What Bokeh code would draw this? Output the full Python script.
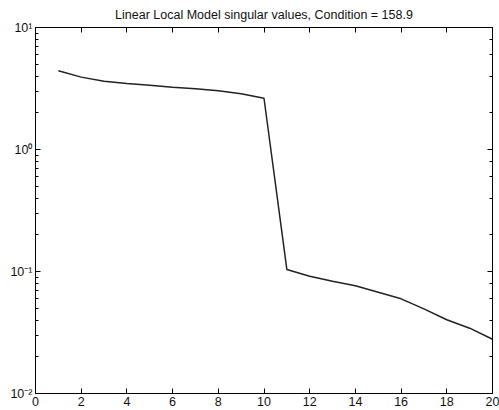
from bokeh.plotting import figure
from bokeh.models import (LinearAxis, LogAxis, FixedTicker, Range1d,
                          CustomJSTickFormatter, CustomLabelingPolicy)
from bokeh.embed import file_html
from bokeh.resources import INLINE

# Singular values of the linear local model, in descending order
index = list(range(1, 21))
singular_values = [4.42, 3.92, 3.63, 3.48, 3.37, 3.24, 3.15, 3.03, 2.86, 2.63,
                   0.104, 0.0915, 0.0831, 0.0763, 0.0676, 0.0597, 0.0494, 0.0402, 0.0343, 0.02782]

x_ticks = [0, 2, 4, 6, 8, 10, 12, 14, 16, 18, 20]

condition = singular_values[0] / singular_values[-1]
title_text = f"Linear Local Model singular values, Condition = {condition:.1f}"

FONT = "Liberation Sans"

p = figure(width=499, height=410, y_axis_type="log",
           x_range=Range1d(0, 20), y_range=Range1d(0.01, 10),
           output_backend="svg", toolbar_location=None,
           min_border_left=35, min_border_right=7,
           min_border_top=27, min_border_bottom=17,
           title=title_text)

p.title.align = "center"
p.title.text_font = FONT
p.title.text_font_size = "12.5px"
p.title.text_font_style = "normal"
p.title.text_color = "#111111"
p.title.standoff = 4

p.xgrid.visible = False
p.ygrid.visible = False
p.outline_line_color = "black"
p.outline_line_width = 1
p.background_fill_color = "white"
p.border_fill_color = "white"

pow_fmt = CustomJSTickFormatter(code="""
    const sup = {"-": "\u207b", "0": "\u2070", "1": "\u00b9", "2": "\u00b2", "3": "\u00b3",
                 "4": "\u2074", "5": "\u2075", "6": "\u2076", "7": "\u2077", "8": "\u2078", "9": "\u2079"};
    const e = Math.round(Math.log10(tick));
    return "10" + String(e).split("").map(c => sup[c]).join("");
""")

# tick-only axes on the top and right sides of the box: drop every label
no_labels = CustomLabelingPolicy(code="""
    for (const i of Array.from(indices)) { indices.unset(i) }
    return indices
""")

def style_axis(ax, labels=True):
    ax.axis_line_color = "black"
    ax.axis_line_width = 1
    ax.major_tick_in = 5
    ax.major_tick_out = 0
    ax.minor_tick_in = 3
    ax.minor_tick_out = 0
    ax.major_tick_line_color = "black"
    ax.minor_tick_line_color = "black"
    ax.major_label_text_font = FONT
    ax.major_label_text_font_size = "12.5px"
    ax.major_label_text_color = "#111111"
    ax.major_label_standoff = 3
    if not labels:
        ax.major_label_policy = no_labels
        ax.major_label_text_font_size = "1px"
        ax.major_label_standoff = 0

x_ticker = FixedTicker(ticks=x_ticks, minor_ticks=[])

xb = p.xaxis[0]
xb.ticker = x_ticker
style_axis(xb)

yl = p.yaxis[0]
yl.formatter = pow_fmt
style_axis(yl)

xt = LinearAxis(ticker=x_ticker)
style_axis(xt, labels=False)
p.add_layout(xt, "above")

yr = LogAxis()
style_axis(yr, labels=False)
p.add_layout(yr, "right")

p.line(index, singular_values, line_color="#222222", line_width=1.5)

open("out.html", "w").write(file_html(p, INLINE))
